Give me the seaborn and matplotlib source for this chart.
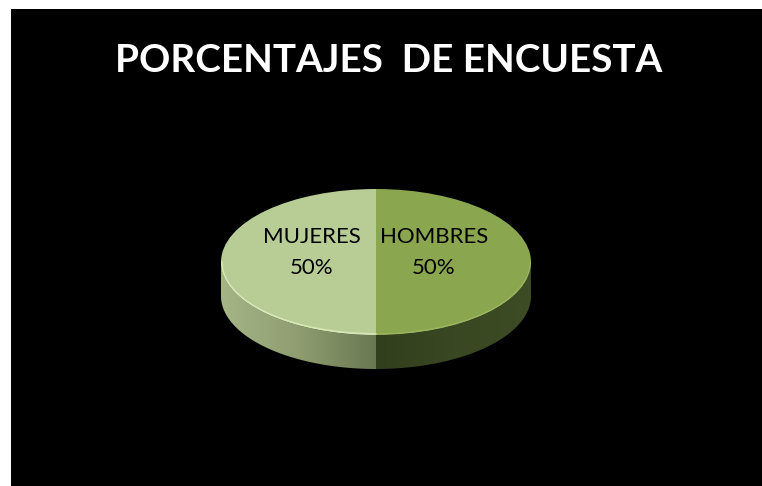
import numpy as np
import matplotlib
matplotlib.use("Agg")
import matplotlib.pyplot as plt
from matplotlib.patches import Polygon, Rectangle
from matplotlib.colors import LinearSegmentedColormap
import seaborn as sns

# ---- data ----
categories = ["MUJERES", "HOMBRES"]
values = [50, 50]
title = "PORCENTAJES  DE ENCUESTA"

sns.set_theme(style="white")
plt.rcParams["font.family"] = ["Lato", "DejaVu Sans"]

W, H = 762, 486
fig = plt.figure(figsize=(W / 100, H / 100), dpi=100)
fig.patch.set_facecolor("white")

# black panel
bg = fig.add_axes([0, 0, 1, 1])
bg.set_xlim(0, W)
bg.set_ylim(H, 0)
bg.axis("off")
bg.set_zorder(0)
bg.add_patch(Rectangle((11, 9), W - 11, H - 9, facecolor="black", edgecolor="none"))
bg.text(389, 60, title, color="white", fontsize=27.8, fontweight="bold",
        ha="center", va="center")

# pie axes: unit circle -> ellipse, extra room below for the side wall
cx, cy, rx, ry, depth = 376, 262, 155, 73, 34
d = depth / ry  # depth in data units
ax = fig.add_axes([(cx - rx) / W, 1 - (cy + ry + depth) / H,
                   2 * rx / W, (2 * ry + depth) / H])
ax.set_zorder(1)

top_colors = ["#b8cc96", "#8aa64f"]


def side_poly(a0, a1):
    t = np.radians(np.linspace(a0, a1, 120))
    x, y = np.cos(t), np.sin(t)
    xs = np.concatenate([x, x[::-1]])
    ys = np.concatenate([y, y[::-1] - d])
    return np.column_stack([xs, ys])


grad = np.linspace(0, 1, 256)[None, :]
cmap_l = LinearSegmentedColormap.from_list("l", ["#a5b586", "#8f9d71", "#6a7852"])
cmap_r = LinearSegmentedColormap.from_list("r", ["#323f1d", "#394722", "#3d4c25"])

pl = Polygon(side_poly(180, 270), closed=True, facecolor="none", edgecolor="none")
ax.add_patch(pl)
im = ax.imshow(grad, cmap=cmap_l, extent=[-1, 0, -1 - d, 0], aspect="auto", zorder=1)
im.set_clip_path(pl)

pr = Polygon(side_poly(270, 360), closed=True, facecolor="none", edgecolor="none")
ax.add_patch(pr)
im2 = ax.imshow(grad, cmap=cmap_r, extent=[0, 1, -1 - d, 0], aspect="auto", zorder=1)
im2.set_clip_path(pr)

# top face via pie
wedges, _ = ax.pie(values, startangle=90, counterclock=True, colors=top_colors,
                   radius=1, center=(0, 0), frame=True,
                   wedgeprops=dict(linewidth=0))
for w in wedges:
    w.set_zorder(3)

# subtle bevel highlight on front edge
t = np.radians(np.linspace(180, 270, 100))
ax.plot(np.cos(t) * 0.995, np.sin(t) * 0.985, color="#dcebba", lw=1.3, zorder=4,
        alpha=0.85)
t = np.radians(np.linspace(270, 360, 100))
ax.plot(np.cos(t) * 0.995, np.sin(t) * 0.985, color="#a9c06d", lw=1.0, zorder=4,
        alpha=0.6)

ax.set_xlim(-1, 1)
ax.set_ylim(-1 - d, 1)
ax.set_aspect("auto")
ax.axis("off")

# labels on overlay
over = fig.add_axes([0, 0, 1, 1])
over.set_xlim(0, W)
over.set_ylim(H, 0)
over.axis("off")
over.set_zorder(2)
label_pos = [(312, 237, 268), (434, 237, 268)]
for cat, val, (lx, ly1, ly2) in zip(categories, values, label_pos):
    over.text(lx, ly1, cat, fontsize=16, color="black", ha="center", va="center")
    over.text(lx, ly2, f"{val}%", fontsize=16, color="black", ha="center",
              va="center")

fig.savefig("out.png", dpi=100, facecolor=fig.get_facecolor())
